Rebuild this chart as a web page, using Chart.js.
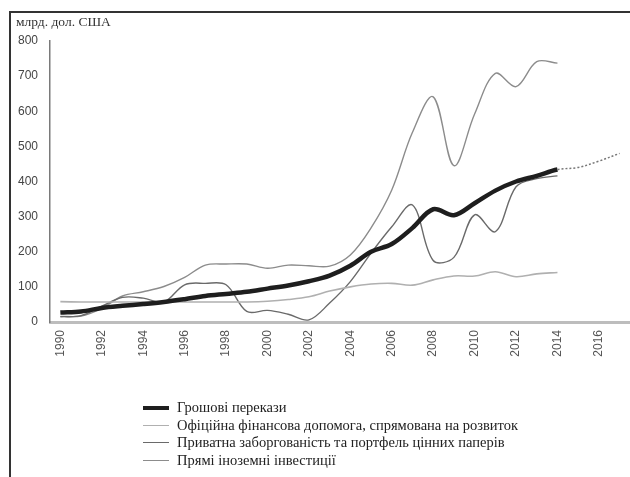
<!DOCTYPE html>
<html>
<head>
<meta charset="utf-8">
<script src="https://cdn.jsdelivr.net/npm/chart.js@4"></script>
<style>
  body { margin: 0; background: #fff; }
  #wrap { position: relative; width: 630px; height: 477px; overflow: hidden; }
  #frame { position: absolute; left: 9px; top: 11px; width: 640px; height: 480px;
           border-left: 2px solid #333; border-top: 2px solid #333; }
  #chart { position: absolute; left: 0; top: 0; }
  #legend { position: absolute; left: 143px; top: 399px; font-family: "Liberation Serif", serif;
            font-size: 14.5px; color: #222; }
  #legend .row { height: 17.5px; display: flex; align-items: center; }
  #legend .swatch { width: 26px; margin-right: 8px; }
</style>
</head>
<body>
<div id="wrap">
  <div id="frame"></div>
  <canvas id="chart" width="642" height="477"></canvas>
  <div id="legend"></div>
</div>
<script>
const years = [];
for (let y = 1990; y <= 2017; y++) years.push(String(y));

const unitLabel = 'млрд. дол. США';

const remittances = [27, 30, 40, 46, 51, 57, 65, 74, 80, 86, 95, 104, 116, 132, 160, 200, 222, 268, 321, 304, 338, 374, 400, 416, 434];
const remittancesForecast = [440, 458, 480];
const officialAid = [58, 57, 57, 57, 57, 57, 57, 57, 57, 57, 59, 64, 72, 88, 100, 108, 110, 105, 120, 131, 131, 143, 129, 137, 141];
const privateDebt = [15, 18, 45, 70, 68, 57, 106, 110, 106, 30, 33, 22, 6, 54, 115, 196, 271, 333, 175, 184, 305, 257, 385, 408, 416];
const foreignInvestment = [16, 17, 39, 74, 86, 101, 127, 162, 165, 165, 153, 162, 160, 159, 191, 268, 376, 540, 641, 445, 592, 708, 670, 741, 737];

const lastActual = remittances.length - 1;

const unitTitle = {
    id: 'unitTitle',
    afterDraw(chart) {
        const ctx = chart.ctx;
        ctx.save();
        ctx.font = '13.5px "Liberation Serif", serif';
        ctx.fillStyle = '#333';
        ctx.textBaseline = 'middle';
        ctx.fillText(unitLabel, chart.chartArea.left - 34, chart.chartArea.top - 19);
        ctx.restore();
    }
};

const chart = new Chart(document.getElementById('chart'), {
    type: 'line',
    data: {
        labels: years,
        datasets: [{
            label: 'Грошові перекази',
            data: remittances.concat(remittancesForecast),
            borderColor: '#1e1e1e',
            borderWidth: 4.5,
            segment: {
                borderDash: ctx => ctx.p0DataIndex >= lastActual ? [2, 2] : undefined,
                borderWidth: ctx => ctx.p0DataIndex >= lastActual ? 1.5 : undefined,
                borderColor: ctx => ctx.p0DataIndex >= lastActual ? '#777' : undefined
            }
        }, {
            label: 'Офіційна фінансова допомога, спрямована на розвиток',
            data: officialAid,
            borderColor: '#b0b0b0',
            borderWidth: 1.6
        }, {
            label: 'Приватна заборгованість та портфель цінних паперів',
            data: privateDebt,
            borderColor: '#6a6a6a',
            borderWidth: 1.4
        }, {
            label: 'Прямі іноземні інвестиції',
            data: foreignInvestment,
            borderColor: '#8c8c8c',
            borderWidth: 1.4
        }]
    },
    options: {
        responsive: false,
        animation: false,
        elements: {
            point: { radius: 0 },
            line: { tension: 0.35, fill: false }
        },
        layout: { padding: { left: 10, top: 41, right: 0, bottom: 115 } },
        plugins: {
            legend: { display: false },
            tooltip: { enabled: false }
        },
        scales: {
            x: {
                offset: true,
                grid: { display: false, drawTicks: false },
                border: { color: '#bdbdbd', width: 3 },
                afterFit: scale => { scale.height = 40; },
                ticks: {
                    autoSkip: false,
                    maxRotation: 90,
                    minRotation: 90,
                    padding: 8,
                    color: '#555',
                    font: { family: 'Liberation Sans, Arial, sans-serif', size: 12 },
                    callback: function (value, index) {
                        return index % 2 === 0 ? this.getLabelForValue(value) : '';
                    }
                }
            },
            y: {
                min: 0,
                max: 800,
                grid: { display: false, drawTicks: false },
                border: { color: '#7a7a7a', width: 1.5 },
                afterFit: scale => { scale.width = 40; },
                ticks: {
                    stepSize: 100,
                    padding: 12,
                    color: '#444',
                    font: { family: 'Liberation Sans, Arial, sans-serif', size: 12 }
                }
            }
        }
    },
    plugins: [unitTitle]
});

// legend as a single column under the chart
const legendBox = document.getElementById('legend');
chart.data.datasets.forEach(ds => {
    const row = document.createElement('div');
    row.className = 'row';
    const swatch = document.createElement('div');
    swatch.className = 'swatch';
    swatch.style.borderTop = `${Math.min(ds.borderWidth, 4)}px solid ${ds.borderColor}`;
    const text = document.createElement('span');
    text.textContent = ds.label;
    row.appendChild(swatch);
    row.appendChild(text);
    legendBox.appendChild(row);
});
</script>
</body>
</html>
